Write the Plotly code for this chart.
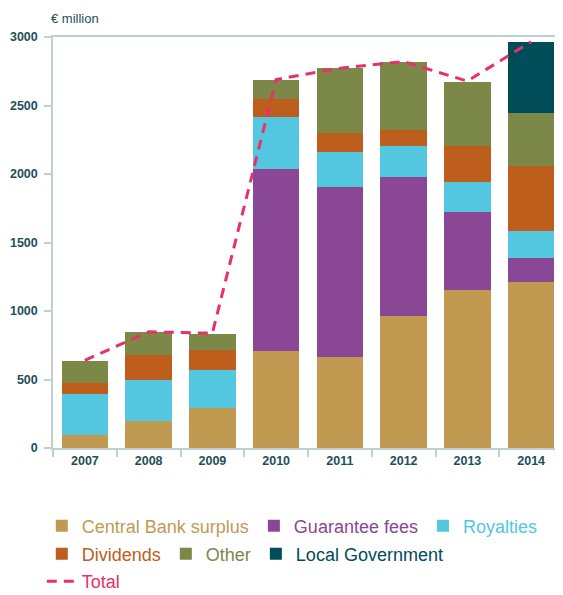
import plotly.graph_objects as go

# data (€ million)
years = ["2007", "2008", "2009", "2010", "2011", "2012", "2013", "2014"]
central_bank = [95, 195, 290, 705, 665, 960, 1150, 1215]
guarantee_fees = [0, 0, 0, 1330, 1240, 1020, 575, 175]
royalties = [300, 305, 283, 380, 255, 225, 220, 195]
dividends = [80, 177, 146, 130, 137, 117, 263, 477]
other = [160, 171, 116, 139, 476, 496, 467, 385]
local_gov = [0, 0, 0, 0, 0, 0, 0, 518]
total = [640, 848, 838, 2690, 2772, 2820, 2678, 2966]

y_ticks = [0, 500, 1000, 1500, 2000, 2500, 3000]

series = [
    ("Central Bank surplus", central_bank, "#c19a52", "legend"),
    ("Guarantee fees", guarantee_fees, "#8a4796", "legend"),
    ("Royalties", royalties, "#53c7df", "legend"),
    ("Dividends", dividends, "#bd5e1c", "legend2"),
    ("Other", other, "#7b8848", "legend2"),
    ("Local Government", local_gov, "#004d5a", "legend2"),
]

AXIS_COL = "#bfd0d5"
TEXT_COL = "#1d4f5a"
FONT = "Liberation Sans, Arial, sans-serif"

fig = go.Figure()

for name, vals, col, leg in series:
    fig.add_trace(go.Bar(
        x=years, y=vals,
        name=f'<span style="color:{col}">{name}</span>',
        marker=dict(color=col, line=dict(width=0)),
        legend=leg,
        hoverinfo="skip",
    ))

fig.add_trace(go.Scatter(
    x=years, y=total,
    mode="lines",
    name='<span style="color:#e8306b">Total</span>',
    line=dict(color="#e8306b", width=3, dash="10px,7px"),
    legend="legend3",
    hoverinfo="skip",
))

legend_common = dict(
    orientation="h",
    xanchor="left",
    yanchor="middle",
    x=-0.022,
    font=dict(family=FONT, size=18),
    bgcolor="rgba(0,0,0,0)",
    itemclick=False,
    itemdoubleclick=False,
    traceorder="normal",
)

# the page body adds an 8px offset, so the figure is 8px smaller than the window
fig.update_layout(
    width=555,
    height=587,
    margin=dict(l=45, r=0, t=29, b=147, autoexpand=False),
    barmode="stack",
    bargap=0.27,
    plot_bgcolor="white",
    paper_bgcolor="white",
    font=dict(family=FONT, color=TEXT_COL),
    showlegend=True,
    legend=dict(y=-0.19, **legend_common),
    legend2=dict(y=-0.258, **legend_common),
    legend3=dict(y=-0.325, **legend_common),
    xaxis=dict(
        type="category",
        showline=True, linecolor=AXIS_COL, linewidth=1.5, mirror=True,
        ticks="outside", tickson="boundaries", ticklen=7, tickcolor=AXIS_COL, tickwidth=1.5,
        tickfont=dict(family=FONT, size=12.5, color=TEXT_COL, weight="bold"),
        showgrid=False, zeroline=False,
    ),
    yaxis=dict(
        range=[0, 3000],
        tickvals=y_ticks,
        showline=True, linecolor=AXIS_COL, linewidth=1.5,
        ticks="outside", ticklen=7, tickcolor=AXIS_COL, tickwidth=1.5,
        tickfont=dict(family=FONT, size=12.5, color=TEXT_COL, weight="bold"),
        ticklabelstandoff=4,
        showgrid=False, zeroline=False,
    ),
    annotations=[dict(
        text="€ million", xref="paper", yref="paper", x=-0.008, y=1.0,
        xanchor="left", yanchor="bottom", yshift=9, showarrow=False,
        font=dict(family=FONT, size=13, color=TEXT_COL),
    )],
)

fig.write_html("out.html")
